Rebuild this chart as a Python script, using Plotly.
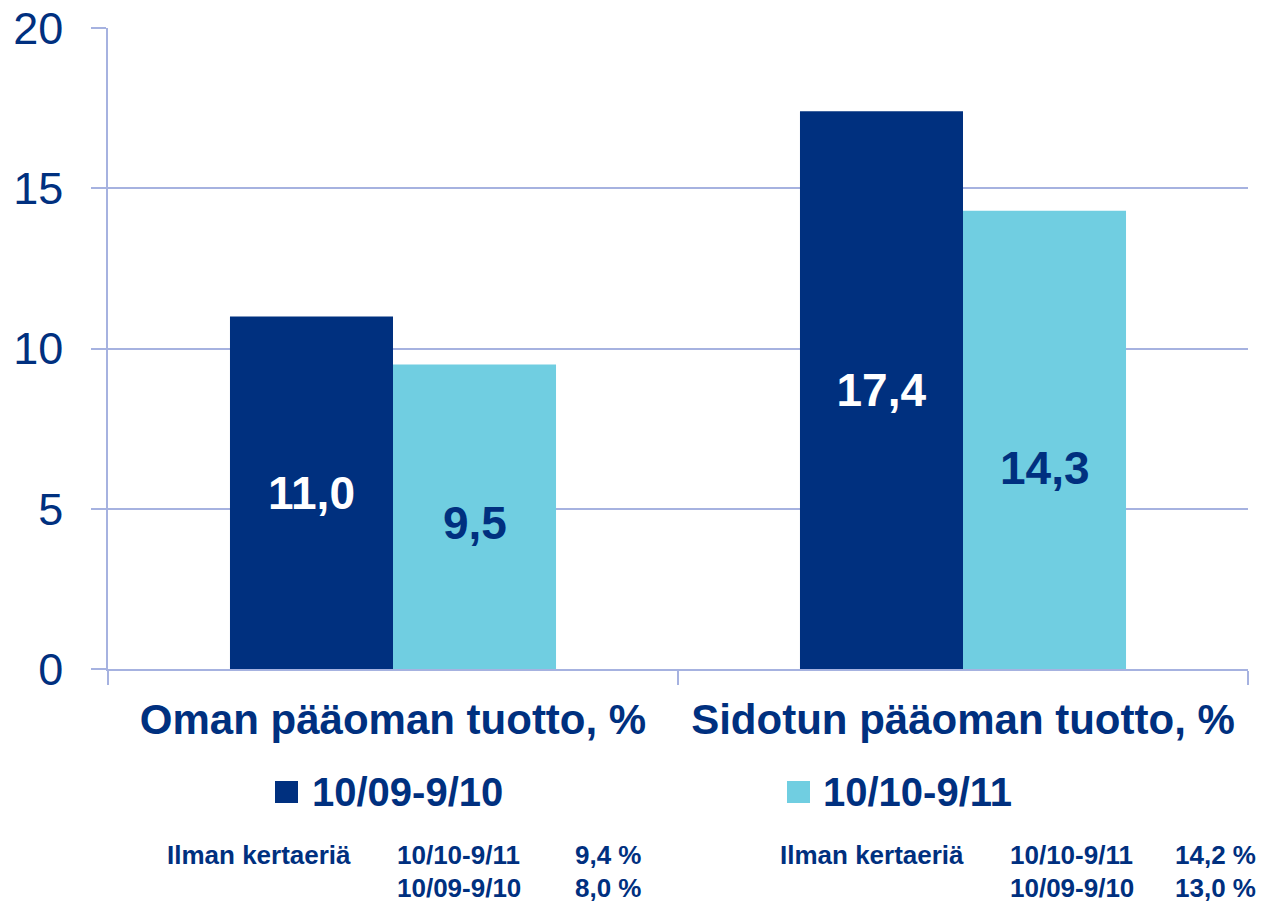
import plotly.graph_objects as go

# ---------------- data ----------------
categories = ["Oman pääoman tuotto, %", "Sidotun pääoman tuotto, %"]
series_names = ["10/09-9/10", "10/10-9/11"]
values_prev = [11.0, 17.4]   # 10/09-9/10
values_curr = [9.5, 14.3]    # 10/10-9/11
y_ticks = [0, 5, 10, 15, 20]

footnote_label = "Ilman kertaeriä"
footnote_periods = ["10/10-9/11", "10/09-9/10"]
footnote_oman = ["9,4 %", "8,0 %"]
footnote_sidotun = ["14,2 %", "13,0 %"]

# ---------------- style ----------------
DARK = "#00307F"
LIGHT = "#70CEE1"
GRID = "#A6B2E0"
FONT = "Liberation Sans"
W, H = 1264, 909
L, R, T, B = 108, 16, 28, 240
BARGAP = 0.428
PW, PH = W - L - R, H - T - B

def xp(px):
    return (px - L) / PW

def yp(py):
    return (H - B - py) / PH

fig = go.Figure()
fig.add_trace(go.Bar(
    x=categories, y=values_prev, name=series_names[0],
    marker=dict(color=DARK, line=dict(width=0)),
    texttemplate="%{y:.1f}", textposition="inside", insidetextanchor="middle",
    textfont=dict(family=FONT, size=46, color="white", weight="bold"),
    showlegend=False,
))
fig.add_trace(go.Bar(
    x=categories, y=values_curr, name=series_names[1],
    marker=dict(color=LIGHT, line=dict(width=0)),
    showlegend=False,
))

# value labels of the lighter bars (placed lower within the bar, as in the original)
light_label_y = [4.56, 6.28]
offset = (1 - BARGAP) / 4
for i, v in enumerate(values_curr):
    fig.add_annotation(
        x=i + offset, y=light_label_y[i], xref="x", yref="y",
        text=f"{v:.1f}".replace(".", ","), showarrow=False,
        font=dict(family=FONT, size=46, color=DARK, weight="bold"),
        xanchor="center", yanchor="middle",
    )

# legend (drawn manually for large swatches)
legend_items = [(series_names[0], DARK, 275, 310), (series_names[1], LIGHT, 787, 821)]
for name, col, sx, tx in legend_items:
    fig.add_shape(type="rect", xref="paper", yref="paper",
                  x0=xp(sx), x1=xp(sx + 23), y0=yp(803), y1=yp(781),
                  fillcolor=col, line=dict(width=0))
    fig.add_annotation(x=xp(tx), y=yp(792), xref="paper", yref="paper",
                       text=name, showarrow=False, xanchor="left", yanchor="middle",
                       font=dict(family=FONT, size=40, color=DARK, weight="bold"))

# footnotes
foot_font = dict(family=FONT, size=26, color=DARK, weight="bold")
rows_y = [855, 888]
for lab_x, per_x, val_x, vals in [(165, 395, 644, footnote_oman), (778, 1008, 1258, footnote_sidotun)]:
    fig.add_annotation(x=xp(lab_x), y=yp(rows_y[0]), xref="paper", yref="paper",
                       text=footnote_label, showarrow=False, xanchor="left", yanchor="middle",
                       font=foot_font)
    for r in range(2):
        fig.add_annotation(x=xp(per_x), y=yp(rows_y[r]), xref="paper", yref="paper",
                           text=footnote_periods[r], showarrow=False, xanchor="left",
                           yanchor="middle", font=foot_font)
        fig.add_annotation(x=xp(val_x), y=yp(rows_y[r]), xref="paper", yref="paper",
                           text=vals[r], showarrow=False, xanchor="right",
                           yanchor="middle", font=foot_font)

fig.update_layout(
    template="none",
    width=W, height=H, autosize=False,
    margin=dict(l=L, r=R, t=T, b=B, pad=0),
    paper_bgcolor="white", plot_bgcolor="white",
    barmode="group", bargap=BARGAP, bargroupgap=0,
    separators=",.",
    font=dict(family=FONT, color=DARK),
    showlegend=False,
)
fig.update_xaxes(
    type="category", tickson="boundaries", ticks="outside", ticklen=14,
    tickcolor=GRID, tickwidth=1.5, showline=True, linecolor=GRID, linewidth=1.5,
    showgrid=False, zeroline=False, automargin=False,
    tickfont=dict(family=FONT, size=42, color=DARK, weight="bold"),
    ticklabelstandoff=13,
)
fig.update_yaxes(
    range=[0, 20], tickvals=y_ticks, ticks="outside", ticklen=15, tickcolor=GRID,
    tickwidth=1.5, showline=True, linecolor=GRID, linewidth=1.5,
    showgrid=True, gridcolor=GRID, gridwidth=1.5, zeroline=False, automargin=False,
    tickfont=dict(family=FONT, size=45, color=DARK),
    ticklabelstandoff=19,
)

fig.write_html(
    "out.html",
    config={"displayModeBar": False},
    post_script="document.body.style.margin='0';document.body.style.overflow='hidden';",
)
